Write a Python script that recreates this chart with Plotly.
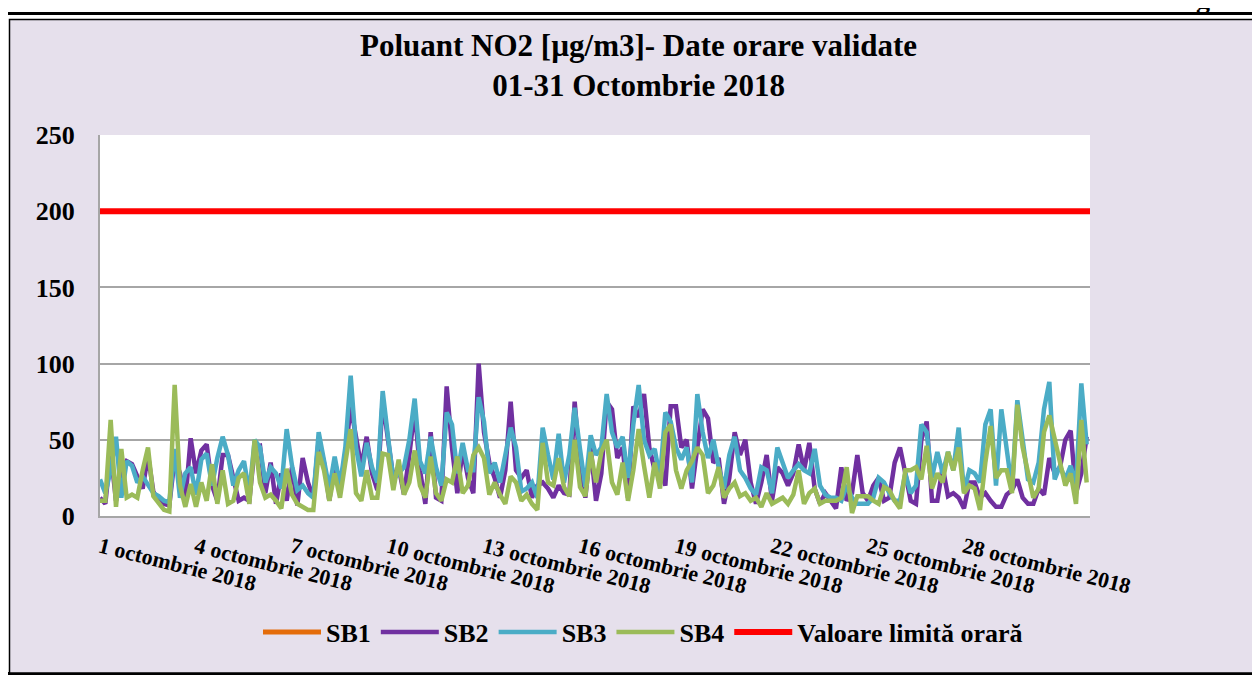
import plotly.graph_objects as go
import pandas as pd

# valori NO2 (esantion la 4 ore, 1-31 octombrie 2018)
sb1 = []
sb2 = [12, 8, 42, 10, 28, 36, 34, 25, 18, 40, 16, 10, 8, 7, 38, 28, 10, 51, 28, 43, 47, 20, 10, 40,
       40, 25, 10, 12, 10, 45, 46, 15, 35, 8, 28, 10, 32, 7, 38, 22, 12, 50, 35, 10, 36, 20, 40,
       72, 50, 32, 52, 28, 17, 76, 50, 25, 32, 14, 40, 70, 30, 8, 55, 12, 10, 85, 45, 15, 44, 25, 15,
       100, 55, 35, 25, 12, 30, 75, 30, 25, 30, 12, 20, 22, 18, 12, 20, 15, 14, 75, 32, 12, 45, 10,
       28, 75, 70, 38, 45, 12, 72, 65, 80, 45, 30, 32, 20, 72, 72, 45, 50, 18, 45, 70, 64, 35, 38, 8,
       25, 55, 40, 50, 22, 8, 22, 40, 10, 32, 28, 20, 28, 47, 30, 48, 18, 8, 15, 10, 5, 32, 10,
       15, 40, 15, 10, 20, 25, 10, 12, 35, 45, 28, 10, 8, 50, 62, 10, 10, 32, 13, 15, 12, 5, 22, 22,
       12, 15, 10, 6, 6, 14, 17, 24, 12, 8, 8, 18, 14, 38, 28, 32, 50, 56, 15, 28, 52]
sb3 = [24, 15, 30, 52, 12, 36, 33, 22, 26, 20, 15, 13, 10, 9, 44, 12, 28, 32, 14, 37, 41, 20, 38, 52,
       40, 20, 30, 36, 15, 50, 45, 22, 32, 28, 18, 57, 33, 17, 20, 15, 12, 55, 35, 18, 39, 20, 45,
       92, 45, 26, 48, 32, 22, 82, 52, 24, 28, 32, 50, 77, 36, 28, 52, 32, 20, 68, 60, 28, 48, 30, 30,
       78, 62, 28, 35, 22, 40, 58, 45, 16, 18, 22, 12, 58, 40, 24, 54, 22, 40, 71, 44, 19, 53, 40,
       45, 80, 55, 45, 52, 25, 60, 86, 50, 40, 44, 25, 68, 62, 45, 37, 45, 22, 80, 55, 38, 50, 32, 18,
       40, 52, 30, 25, 18, 14, 32, 30, 15, 45, 35, 25, 30, 34, 30, 28, 44, 20, 14, 12, 12, 10, 20,
       12, 8, 8, 8, 12, 25, 22, 15, 10, 10, 28, 15, 20, 60, 55, 25, 42, 28, 42, 30, 58, 16, 30, 28,
       22, 60, 70, 20, 70, 45, 18, 76, 52, 24, 22, 35, 70, 88, 24, 33, 24, 33, 20, 87, 47]
sb4 = [10, 10, 63, 6, 44, 12, 14, 12, 30, 45, 13, 8, 4, 3, 86, 20, 6, 21, 6, 22, 10, 34, 8, 30,
       8, 10, 25, 28, 8, 50, 22, 12, 14, 10, 5, 31, 14, 8, 6, 4, 4, 42, 30, 10, 28, 12, 35,
       57, 15, 10, 30, 12, 12, 41, 40, 17, 37, 14, 22, 43, 20, 12, 39, 15, 10, 24, 22, 39, 15, 20, 40,
       45, 38, 14, 22, 14, 8, 26, 22, 10, 14, 8, 4, 48, 22, 20, 38, 19, 13, 50, 19, 13, 42, 22,
       42, 50, 22, 14, 35, 10, 30, 57, 33, 12, 35, 18, 55, 60, 30, 18, 30, 36, 45, 40, 15, 20, 32, 12,
       18, 22, 13, 15, 10, 12, 6, 15, 8, 10, 12, 8, 14, 30, 8, 15, 18, 8, 10, 10, 10, 12, 32,
       2, 13, 13, 13, 10, 8, 19, 17, 10, 5, 30, 30, 32, 24, 46, 18, 28, 22, 42, 30, 45, 15, 20, 18,
       4, 35, 59, 25, 30, 30, 15, 73, 45, 28, 12, 18, 55, 66, 50, 37, 20, 28, 8, 63, 22]
limita = 200
perioada = ["2018-10-01 00:00", "2018-10-31 22:30"]
zile_tick = ["2018-10-01", "2018-10-04", "2018-10-07", "2018-10-10", "2018-10-13",
             "2018-10-16", "2018-10-19", "2018-10-22", "2018-10-25", "2018-10-28"]
etichete_tick = ["1 octombrie 2018", "4 octombrie 2018", "7 octombrie 2018", "10 octombrie 2018",
                 "13 octombrie 2018", "16 octombrie 2018", "19 octombrie 2018", "22 octombrie 2018",
                 "25 octombrie 2018", "28 octombrie 2018"]

ore = pd.date_range(perioada[0], periods=len(sb2), freq="4h")

FONT = "Liberation Serif"
W, H = 1260, 675
OFF = 8                              # marginea paginii html
L, R, T, B = 100, 1090, 135, 516     # zona graficului in pixeli pe ecran


def px(x):
    return (x - L) / (R - L)


def py(y):
    return (B - y) / (B - T)


fig = go.Figure()
# SB1 nu are date valide; o urma goala doar pentru legenda
fig.add_trace(go.Scatter(x=ore[:1], y=sb1 if sb1 else [None], name="SB1", mode="lines",
                         line=dict(color="#E46C0A", width=5)))
fig.add_trace(go.Scatter(x=ore, y=sb2, name="SB2", mode="lines",
                         line=dict(color="#7030A0", width=4.5)))
fig.add_trace(go.Scatter(x=ore, y=sb3, name="SB3", mode="lines",
                         line=dict(color="#4BACC6", width=4.5)))
fig.add_trace(go.Scatter(x=ore, y=sb4, name="SB4", mode="lines",
                         line=dict(color="#9BBB59", width=4.5)))
fig.add_trace(go.Scatter(x=perioada, y=[limita, limita], name="Valoare limită orară", mode="lines",
                         line=dict(color="#FF0000", width=6)))

# chenar dublu + fundal lavanda
fig.add_shape(type="rect", xref="paper", yref="paper", layer="below",
              x0=px(3.5), x1=px(1290), y0=py(673.5), y1=py(13.5),
              line=dict(color="black", width=3), fillcolor="white")
fig.add_shape(type="rect", xref="paper", yref="paper", layer="below",
              x0=px(9.5), x1=px(1290), y0=py(673), y1=py(19.5),
              line=dict(color="black", width=1.5), fillcolor="#E6E0EC")
fig.add_shape(type="rect", xref="paper", yref="paper", layer="below",
              x0=0, x1=1, y0=0, y1=1, line=dict(width=0), fillcolor="white")

fig.add_annotation(text="Poluant NO2 [µg/m3]- Date orare validate<br>01-31 Octombrie 2018",
                   xref="paper", yref="paper", x=px(638), y=py(65), showarrow=False,
                   xanchor="center", yanchor="middle",
                   font=dict(family=FONT, size=31, color="black", weight="bold"))
fig.add_annotation(text="g", xref="paper", yref="paper", x=px(1203), y=py(-2), showarrow=False,
                   xanchor="center", yanchor="middle",
                   font=dict(family=FONT, size=28, color="black", weight="bold"))

fig.update_layout(
    width=W, height=H,
    margin=dict(l=L - OFF, r=W - (R - OFF), t=T - OFF, b=H - (B - OFF), autoexpand=False),
    paper_bgcolor="white",
    plot_bgcolor="white",
    showlegend=True,
    legend=dict(orientation="h", x=px(643), y=py(632), xanchor="center", yanchor="middle",
                font=dict(family=FONT, size=26, color="black", weight="bold"),
                bgcolor="rgba(0,0,0,0)", itemwidth=58, traceorder="normal"),
    xaxis=dict(type="date", range=perioada, tickvals=zile_tick, ticktext=etichete_tick,
               tickangle=14, showgrid=False, showline=True, linecolor="#A6A6A6", linewidth=2,
               ticks="", ticklabelstandoff=8,
               tickfont=dict(family=FONT, size=22, color="black", weight="bold")),
    yaxis=dict(range=[0, 250], tickvals=[0, 50, 100, 150, 200, 250], showgrid=True,
               gridcolor="#A6A6A6", gridwidth=2, showline=True, linecolor="#A6A6A6", linewidth=2,
               zeroline=False, ticks="", ticklabelstandoff=18,
               tickfont=dict(family=FONT, size=26, color="black", weight="bold")),
)

fig.write_html("out.html")
